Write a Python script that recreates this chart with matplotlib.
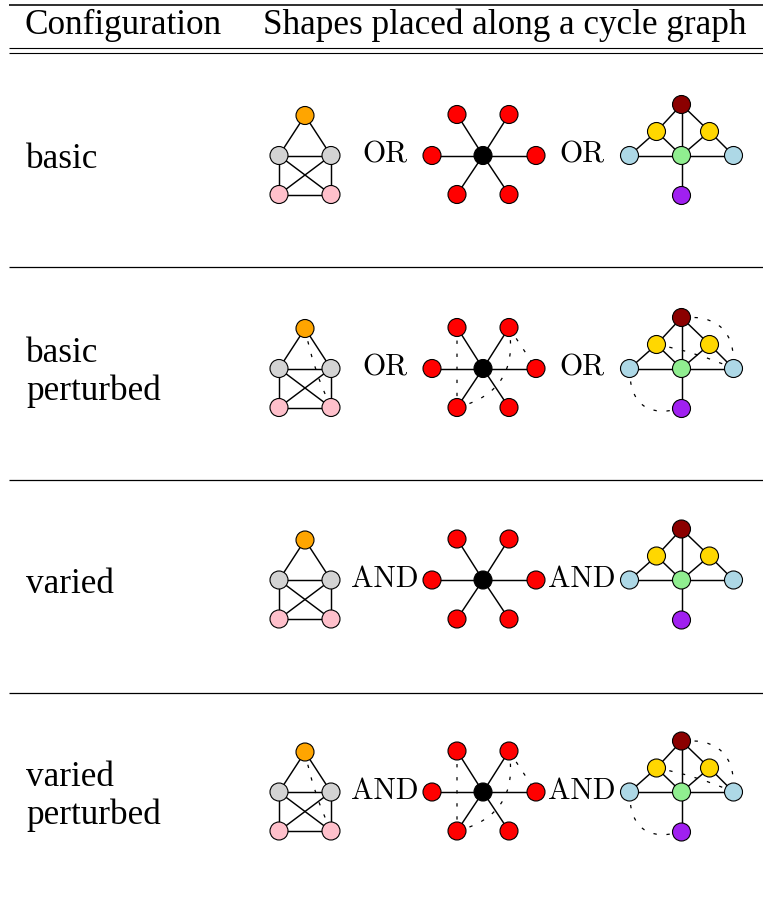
import matplotlib
matplotlib.use("Agg")
import matplotlib.pyplot as plt
from matplotlib.patches import Circle, PathPatch
from matplotlib.path import Path

# ---------------- data ----------------
header = ["Configuration", "Shapes placed along a cycle graph"]
row_labels = [["basic"], ["basic", "perturbed"], ["varied"], ["varied", "perturbed"]]
connectors = ["OR", "OR", "AND", "AND"]
row_perturbed = [False, True, False, True]

# shape 1: "house"
house_nodes = [(0, -40), (-26, 0), (26, 0), (-26, 39), (26, 39)]
house_colors = ["orange", "lightgray", "lightgray", "pink", "pink"]
house_edges = [(0, 1), (0, 2), (1, 2), (1, 3), (2, 4), (3, 4), (1, 4), (2, 3)]
house_extra = [(0, 4, 0.063)]

# shape 2: star
star_nodes = [(0, 0), (-51, 0), (53, 0), (-26, -41), (26, -41), (-26, 39), (26, 39)]
star_colors = ["black", "red", "red", "red", "red", "red", "red"]
star_edges = [(0, 1), (0, 2), (0, 3), (0, 4), (0, 5), (0, 6)]
star_extra = [(3, 5, 0.0), (5, 4, 0.46), (4, 2, 0.0)]

# shape 3: "tree/pyramid"
tri_nodes = [(0, -51), (-25, -24), (28, -24), (-52, 0), (0, 0), (52, 0), (0, 40)]
tri_colors = ["darkred", "gold", "gold", "lightblue", "lightgreen", "lightblue", "#A020F0"]
tri_edges = [(0, 1), (0, 2), (0, 4), (1, 3), (1, 4), (2, 4), (2, 5), (3, 4), (4, 5), (4, 6)]
tri_extra = [(0, 5, -0.57), (1, 5, -0.06), (3, 6, 0.64)]

# ---------------- layout ----------------
W, H = 763, 906
row_centers = [155.5, 368.5, 580.0, 792.0]
shape_x = [305, 483, 681.5]
conn_x = [385, 582]
label_font = "Liberation Serif"
label_size = 25.3

plt.rcParams["lines.scale_dashes"] = False
fig = plt.figure(figsize=(W / 100, H / 100), dpi=100)
ax = fig.add_axes([0, 0, 1, 1])
ax.set_xlim(0, W)
ax.set_ylim(H, 0)
ax.set_axis_off()

# rules
ax.plot([9, W], [4.7, 4.7], color="black", lw=1.15, solid_capstyle="butt")
ax.plot([9, W], [47.7, 47.7], color="black", lw=0.8, solid_capstyle="butt")
ax.plot([9, W], [52.7, 52.7], color="black", lw=0.8, solid_capstyle="butt")
for y in [267.3, 480.0, 692.8]:
    ax.plot([9, W], [y, y], color="black", lw=0.9, solid_capstyle="butt")

# header
ax.text(25, 34, header[0], family=label_font, fontsize=label_size, va="baseline", ha="left")
ax.text(263, 34, header[1], family=label_font, fontsize=label_size, va="baseline", ha="left")


def draw_shape(cx, cy, nodes, colors, edges, extra, perturbed):
    pts = [(cx + dx, cy + dy) for dx, dy in nodes]
    for i, j in edges:
        ax.plot([pts[i][0], pts[j][0]], [pts[i][1], pts[j][1]], color="black", lw=1.05, zorder=1)
    if perturbed:
        for i, j, rad in extra:
            (x0, y0), (x2, y2) = pts[i], pts[j]
            mx, my = (x0 + x2) / 2, (y0 + y2) / 2
            dx, dy = x2 - x0, y2 - y0
            c = (mx - rad * dy, my + rad * dx)
            path = Path([(x0, y0), c, (x2, y2)], [Path.MOVETO, Path.CURVE3, Path.CURVE3])
            ax.add_patch(PathPatch(path, fill=False, ec="black", lw=0.9,
                                   linestyle=(0, (2.4, 7.0)), zorder=1))
    for (x, y), col in zip(pts, colors):
        ax.add_patch(Circle((x, y), 9, fc=col, ec="black", lw=0.8, zorder=3))


for r, cy in enumerate(row_centers):
    lines = row_labels[r]
    if len(lines) == 1:
        bases = [cy + 13]
    else:
        bases = [cy - 6, cy + 32]
    for t, b in zip(lines, bases):
        ax.text(26, b, t, family=label_font, fontsize=label_size, va="baseline", ha="left")
    draw_shape(shape_x[0], cy, house_nodes, house_colors, house_edges, house_extra, row_perturbed[r])
    draw_shape(shape_x[1], cy, star_nodes, star_colors, star_edges, star_extra, row_perturbed[r])
    draw_shape(shape_x[2], cy, tri_nodes, tri_colors, tri_edges, tri_extra, row_perturbed[r])
    for xc in conn_x:
        ax.text(xc, cy + 7, connectors[r], family="cmr10", fontsize=21.5, va="baseline", ha="center",
                zorder=4)

fig.savefig("out.png", dpi=100)
